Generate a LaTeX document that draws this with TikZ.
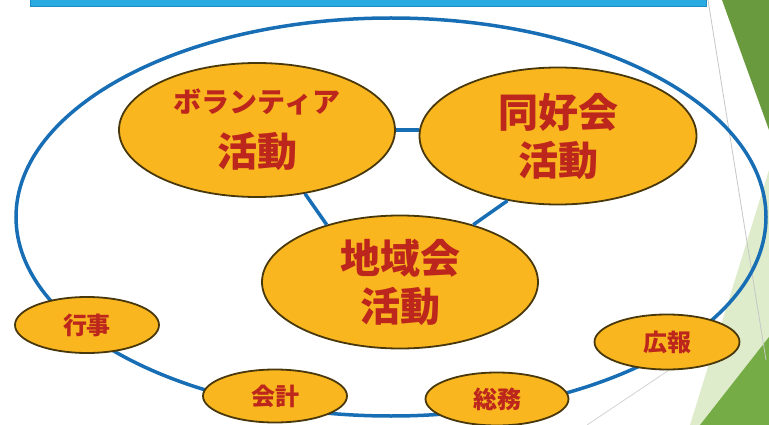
\documentclass[tikz,border=0pt]{standalone}
\usepackage{fontspec}
\newfontfamily\jp{Noto Sans CJK JP}
\usetikzlibrary{shapes.geometric}
\definecolor{ringblue}{RGB}{24,110,180}
\definecolor{orangefill}{RGB}{249,182,30}
\definecolor{olivebrd}{RGB}{72,56,12}
\definecolor{txtred}{RGB}{188,38,28}
\definecolor{barcyan}{RGB}{41,170,225}
\definecolor{bardark}{RGB}{30,140,200}
\definecolor{gdark}{RGB}{106,154,62}
\definecolor{gmid}{RGB}{118,172,70}
\definecolor{glight}{RGB}{222,236,204}
\begin{document}
\begin{tikzpicture}[x=1pt,y=-1pt,
  bubble/.style={ellipse, draw=olivebrd, line width=1.8pt, fill=orangefill, inner sep=0pt, align=center, text=txtred},
  bigbubble/.style={bubble, minimum width=276pt, minimum height=134pt, font=\jp\bfseries\fontsize{40}{48}\selectfont},
  smallbubble/.style={bubble, minimum width=144pt, minimum height=54pt, font=\jp\bfseries\fontsize{24}{24}\selectfont},
  link/.style={draw=ringblue, line width=3.5pt},
  ringstyle/.style={ellipse, draw=ringblue, line width=3.5pt, minimum width=750pt, minimum height=398pt, inner sep=0pt}]
\useasboundingbox (0,0) rectangle (769,425);
% decorations at the right
\fill[glight] (769,170) -- (690,425) -- (769,425) -- cycle;
\fill[gmid] (769,337) -- (700,425) -- (769,425) -- cycle;
\fill[gdark] (722,0) -- (769,0) -- (769,130) -- cycle;
\draw[gray!45, line width=0.8pt] (708,0) -- (766,360);
\draw[gray!35, line width=0.8pt] (587,425) -- (690,356);
% top bar
\fill[barcyan, draw=bardark, line width=0.6pt] (30,-2) rectangle (706,6);
% ring
\node[ringstyle] (ring) at (391,217) {};
% main bubbles
\node[bigbubble] (vol) at (257,130) {{\fontsize{28}{40}\selectfont ボランティア}\\[6pt]活動};
\node[bigbubble, minimum width=277pt, minimum height=137pt] (dou) at (558,136) {同好会\\活動};
\node[bigbubble, minimum height=133pt] (chiiki) at (400,282) {地域会\\活動};
% links
\draw[link] (vol.east) -- (vol.east -| dou.west);
\draw[link] (vol.-53.6) -- (chiiki.142.5);
\draw[link] (dou.-128.6) -- (chiiki.38.2);
% small bubbles
\node[smallbubble, minimum height=56pt] (gyouji) at (87,325) {行事};
\node[smallbubble, minimum height=53pt] (kaikei) at (275,396) {会計};
\node[smallbubble, minimum height=53pt, minimum width=143pt] (soumu) at (497,399) {総務};
\node[smallbubble, minimum height=55pt, minimum width=145pt] (kouhou) at (667,342) {広報};
\end{tikzpicture}
\end{document}
